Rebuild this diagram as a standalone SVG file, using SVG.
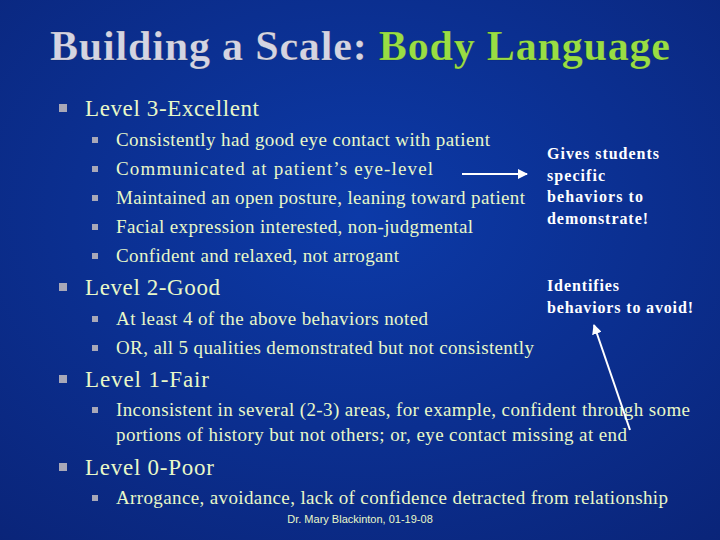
<svg xmlns="http://www.w3.org/2000/svg" width="720" height="540" viewBox="0 0 720 540">
<defs>
<radialGradient id="bg" cx="0.5" cy="0.4" r="0.8"><stop offset="0" stop-color="#0c3aa8"/><stop offset="1" stop-color="#0a2478"/></radialGradient>
<marker id="ah" viewBox="0 0 10 10" refX="9" refY="5" markerWidth="5" markerHeight="5" orient="auto"><path d="M0,0 L10,5 L0,10 z" fill="#fff"/></marker>
<style>
.t{font-family:"Liberation Serif",serif;fill:#e8f8c8}
.h{font-size:23px}.s{font-size:19px}.n{font-size:16px;font-weight:bold;fill:#fff}
.b{fill:#a8a8b8}
</style>
</defs>
<rect width="720" height="540" fill="url(#bg)"/>
<text x="50" y="60" textLength="620" lengthAdjust="spacing" font-family="Liberation Serif,serif" font-weight="bold" font-size="42" fill="#d4d4e2" stroke="#000" stroke-opacity="0.3" stroke-width="0.5">Building a Scale: <tspan fill="#99dd44">Body Language</tspan></text>
<g id="l3"><rect class="b" x="59" y="104" width="8" height="8"/><text class="t h" x="85" y="116" textLength="174" lengthAdjust="spacing">Level 3-Excellent</text>
<rect class="b" x="92" y="137" width="6" height="6"/><text class="t s" x="116" y="146" textLength="374" lengthAdjust="spacing">Consistently had good eye contact with patient</text>
<rect class="b" x="92" y="166" width="6" height="6"/><text class="t s" x="116" y="175" textLength="317" lengthAdjust="spacing">Communicated at patient’s eye-level</text>
<rect class="b" x="92" y="195" width="6" height="6"/><text class="t s" x="116" y="204" textLength="409" lengthAdjust="spacing">Maintained an open posture, leaning toward patient</text>
<rect class="b" x="92" y="224" width="6" height="6"/><text class="t s" x="116" y="233" textLength="357" lengthAdjust="spacing">Facial expression interested, non-judgmental</text>
<rect class="b" x="92" y="253" width="6" height="6"/><text class="t s" x="116" y="262" textLength="283" lengthAdjust="spacing">Confident and relaxed, not arrogant</text></g>
<g id="l2"><rect class="b" x="59" y="283" width="8" height="8"/><text class="t h" x="85" y="295" textLength="135" lengthAdjust="spacing">Level 2-Good</text>
<rect class="b" x="92" y="316" width="6" height="6"/><text class="t s" x="116" y="325" textLength="312" lengthAdjust="spacing">At least 4 of the above behaviors noted</text>
<rect class="b" x="92" y="345" width="6" height="6"/><text class="t s" x="116" y="354" textLength="418" lengthAdjust="spacing">OR, all 5 qualities demonstrated but not consistently</text></g>
<g id="l1"><rect class="b" x="59" y="375" width="8" height="8"/><text class="t h" x="85" y="387" textLength="124" lengthAdjust="spacing">Level 1-Fair</text>
<rect class="b" x="92" y="407" width="6" height="6"/><text class="t s" x="116" y="416" textLength="574" lengthAdjust="spacing">Inconsistent in several (2-3) areas, for example, confident through some</text>
<text class="t s" x="116" y="441" textLength="511" lengthAdjust="spacing">portions of history but not others; or, eye contact missing at end</text></g>
<g id="l0"><rect class="b" x="59" y="463" width="8" height="8"/><text class="t h" x="85" y="475" textLength="129" lengthAdjust="spacing">Level 0-Poor</text>
<rect class="b" x="92" y="495" width="6" height="6"/><text class="t s" x="116" y="504" textLength="552" lengthAdjust="spacing">Arrogance, avoidance, lack of confidence detracted from relationship</text></g>
<g id="note1"><text class="t n" x="547" y="159" textLength="112" lengthAdjust="spacing">Gives students</text><text class="t n" x="547" y="181" textLength="58" lengthAdjust="spacing">specific</text><text class="t n" x="547" y="202" textLength="96" lengthAdjust="spacing">behaviors to</text><text class="t n" x="547" y="224" textLength="101" lengthAdjust="spacing">demonstrate!</text></g>
<g id="note2"><text class="t n" x="547" y="291" textLength="72" lengthAdjust="spacing">Identifies</text><text class="t n" x="547" y="313" textLength="146" lengthAdjust="spacing">behaviors to avoid!</text></g>
<g id="connectors" stroke="#fff" stroke-width="2" marker-end="url(#ah)">
<line x1="462" y1="174" x2="527" y2="174"/>
<line x1="630" y1="430" x2="594" y2="325"/>
</g>
<text x="360" y="523" text-anchor="middle" font-family="Liberation Sans,sans-serif" font-size="11" fill="#e8f8c8">Dr. Mary Blackinton, 01-19-08</text>
</svg>
